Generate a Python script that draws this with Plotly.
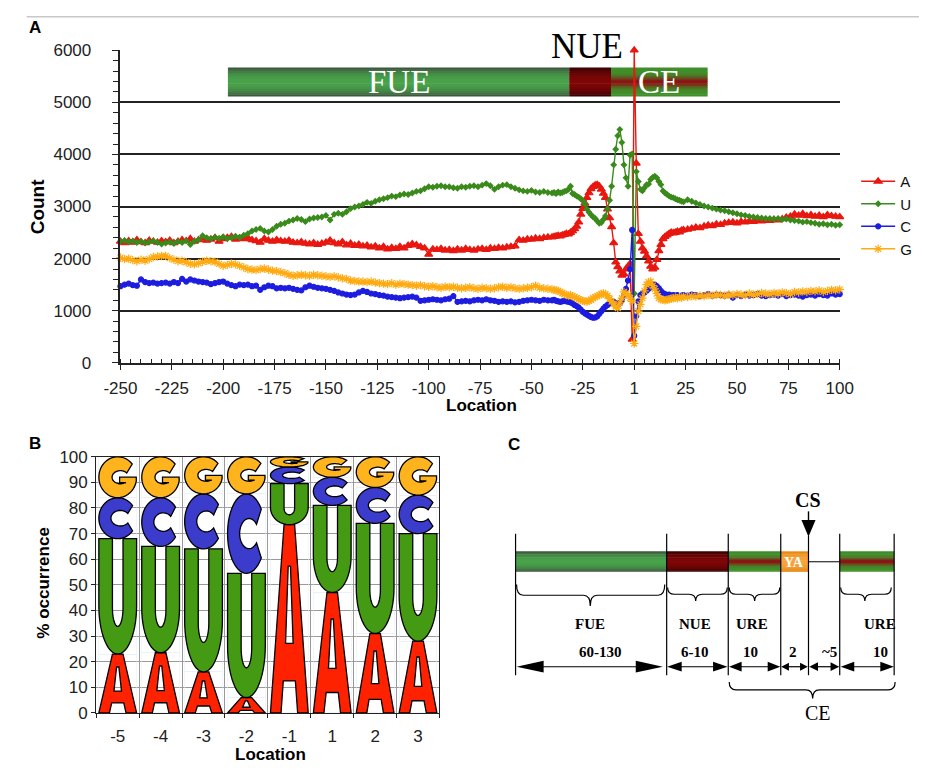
import math
import plotly.graph_objects as go

PAGE_W, PAGE_H = 933, 773
OFF = 0
W, H = PAGE_W - 2 * OFF, PAGE_H - 2 * OFF

# ---------------- Panel A data ----------------
pos_left = list(range(-250, -41, 2))     # -250 .. -42
pos_mid = list(range(-40, 25))           # -40 .. 24
pos_right = list(range(26, 101, 2))      # 26 .. 100
positions = pos_left + pos_mid + pos_right   # axis value 0 is labelled "1"

count_A = [
    2330, 2300, 2340, 2310, 2360, 2320, 2300, 2350, 2330, 2310,
    2340, 2320, 2350, 2300, 2330, 2360, 2340, 2380, 2330, 2360,
    2390, 2350, 2370, 2400, 2330, 2380, 2400, 2420, 2370, 2390,
    2380, 2400, 2360, 2340, 2310, 2380, 2350, 2330, 2360, 2340,
    2330, 2350, 2310, 2300, 2320, 2290, 2280, 2300, 2270, 2290,
    2310, 2350, 2300, 2280, 2320, 2260, 2290, 2250, 2270, 2240,
    2250, 2220, 2240, 2200, 2230, 2180, 2210, 2190, 2230, 2200,
    2250, 2280, 2260, 2230, 2200, 2080, 2180, 2170, 2190, 2160,
    2170, 2150, 2180, 2160, 2190, 2170, 2160, 2180, 2190, 2170,
    2200, 2190, 2210, 2200, 2220, 2230, 2240, 2360, 2350, 2370,
    2370, 2390, 2380, 2400, 2410,
    2410, 2420, 2430, 2440, 2430, 2450, 2460, 2480, 2470, 2500,
    2530, 2570, 2620, 2700, 2850, 2960, 3060, 3170, 3260, 3340,
    3380, 3410, 3420, 3390, 3330, 3250, 3170, 2950, 2780, 2610,
    2300, 1930, 1840, 1760, 1680, 1700, 1800, 1850, 1900, 450,
    6000, 3830, 2480, 2330, 2200, 2140, 2050, 1950, 1850, 1800,
    1830, 1980, 2150, 2270, 2380, 2420, 2450, 2480, 2500, 2490,
    2500, 2520, 2510, 2540, 2550,
    2560, 2580, 2600, 2590, 2620, 2640, 2630, 2660, 2650, 2680,
    2690, 2700, 2680, 2710, 2700, 2720, 2710, 2730, 2720, 2740,
    2730, 2750, 2740, 2760, 2790, 2810, 2850, 2830, 2860, 2820,
    2840, 2810, 2830, 2800, 2840, 2820, 2810, 2800,
]
count_U = [
    2330, 2350, 2320, 2340, 2310, 2330, 2300, 2320, 2340, 2310,
    2280, 2300, 2320, 2290, 2330, 2310, 2340, 2270, 2330, 2360,
    2440, 2400, 2380, 2410, 2390, 2420, 2380, 2400, 2430, 2410,
    2450, 2480, 2530, 2560, 2580, 2530, 2510, 2560, 2620, 2660,
    2680, 2720, 2740, 2770, 2750, 2710, 2760, 2780, 2790, 2800,
    2830, 2740, 2850, 2870, 2850, 2900, 2960, 2990, 3010, 3040,
    3080, 3060, 3100, 3130, 3150, 3170, 3200, 3190, 3220, 3240,
    3230, 3260, 3290, 3300, 3340, 3380, 3370, 3390, 3400, 3380,
    3380, 3360, 3350, 3380, 3370, 3390, 3400, 3380, 3410, 3440,
    3400, 3330, 3380, 3410, 3420, 3380, 3350, 3320, 3300, 3290,
    3310, 3280, 3270, 3290, 3270,
    3260, 3270, 3250, 3280, 3260, 3270, 3290, 3300, 3330, 3390,
    3250, 3230, 3200, 3180, 3150, 3110, 3050, 2950, 2890, 2840,
    2800, 2770, 2720, 2680, 2690, 2750, 2820, 2950, 3120, 3390,
    3800, 4100, 4360, 4480, 4230, 3800, 3550, 3390, 3990, 4010,
    1330, 3670, 3480, 3330, 3300, 3360, 3420, 3430, 3520, 3560,
    3580, 3550, 3480, 3420, 3300, 3260, 3230, 3200, 3180, 3170,
    3150, 3130, 3120, 3100, 3090,
    3130, 3100, 3070, 3040, 3010, 2990, 2970, 2950, 2930, 2920,
    2900, 2880, 2860, 2840, 2830, 2810, 2800, 2790, 2780, 2770,
    2770, 2760, 2770, 2750, 2760, 2740, 2730, 2720, 2700, 2710,
    2690, 2680, 2660, 2670, 2650, 2660, 2640, 2650,
]
count_C = [
    1470, 1500, 1520, 1490, 1480, 1600, 1550, 1530, 1540, 1520,
    1530, 1540, 1520, 1550, 1530, 1610, 1560, 1600, 1580, 1560,
    1550, 1540, 1510, 1530, 1550, 1560, 1520, 1490, 1470, 1500,
    1490, 1500, 1470, 1480, 1400, 1450, 1480, 1470, 1430, 1440,
    1430, 1440, 1420, 1400, 1390, 1450, 1480, 1460, 1440, 1430,
    1420, 1400, 1380, 1350, 1330, 1310, 1300, 1310, 1350, 1380,
    1360, 1330, 1320, 1300, 1290, 1270, 1260, 1250, 1240, 1250,
    1260, 1270, 1250, 1190, 1200, 1210, 1220, 1210, 1200, 1220,
    1230, 1280, 1170, 1180, 1190, 1180, 1200, 1210, 1200, 1220,
    1200, 1190, 1170, 1180, 1170, 1180, 1160, 1170, 1190, 1200,
    1210, 1200, 1190, 1210, 1200,
    1200, 1210, 1190, 1180, 1170, 1180, 1190, 1180, 1170, 1160,
    1140, 1110, 1090, 1060, 1020, 980, 950, 925, 900, 880,
    865, 870, 890, 940, 990, 1040, 1080, 1110, 1140, 1170,
    1170, 1150, 1110, 1150, 1200, 1300, 1420, 1580, 1800, 2550,
    520, 900, 1180, 1300, 1330, 1350, 1380, 1420, 1450, 1480,
    1500, 1470, 1430, 1380, 1340, 1320, 1300, 1310, 1290, 1300,
    1290, 1300, 1280, 1290, 1300,
    1290, 1310, 1300, 1280, 1300, 1320, 1290, 1310, 1300, 1290,
    1310, 1250, 1300, 1280, 1310, 1290, 1300, 1320, 1290, 1280,
    1300, 1310, 1290, 1320, 1280, 1300, 1310, 1290, 1270, 1300,
    1310, 1290, 1320, 1300, 1290, 1330, 1310, 1320,
]
count_G = [
    2020, 1990, 2000, 1970, 1950, 1980, 1960, 1990, 2030, 2040,
    2050, 2050, 2010, 1980, 1950, 1960, 1930, 1900, 1890, 1910,
    1940, 1960, 1950, 1940, 1900, 1860, 1880, 1900, 1890, 1860,
    1830, 1800, 1790, 1780, 1800, 1810, 1790, 1770, 1760, 1740,
    1720, 1690, 1670, 1680, 1690, 1680, 1670, 1690, 1680, 1670,
    1660, 1650, 1660, 1640, 1620, 1610, 1580, 1570, 1560, 1560,
    1550, 1560, 1540, 1530, 1520, 1510, 1530, 1500, 1520, 1510,
    1500, 1490, 1480, 1490, 1470, 1460, 1470, 1450, 1440, 1460,
    1450, 1460, 1440, 1430, 1440, 1450, 1430, 1420, 1440, 1430,
    1420, 1430, 1450, 1460, 1440, 1450, 1430, 1420, 1430, 1440,
    1450, 1480, 1440, 1430, 1420,
    1410, 1400, 1390, 1380, 1360, 1340, 1320, 1300, 1290, 1300,
    1280, 1260, 1240, 1220, 1200, 1190, 1180, 1175, 1190, 1210,
    1240, 1260, 1280, 1300, 1320, 1330, 1320, 1290, 1230, 1180,
    1130, 1080, 1050, 1150, 1240, 1360, 1330, 1300, 1240, 1180,
    370, 700, 990, 1120, 1240, 1380, 1500, 1550, 1560, 1480,
    1420, 1330, 1240, 1220, 1210, 1200, 1210, 1220, 1230, 1240,
    1250, 1240, 1260, 1250, 1270,
    1260, 1280, 1270, 1290, 1280, 1300, 1290, 1310, 1300, 1290,
    1310, 1300, 1320, 1310, 1300, 1330, 1310, 1320, 1340, 1330,
    1320, 1340, 1330, 1350, 1340, 1320, 1360, 1350, 1370, 1360,
    1380, 1370, 1390, 1360, 1380, 1400, 1390, 1410,
]

x_tick_vals = [-250, -225, -200, -175, -150, -125, -100, -75, -50, -25, 0, 25, 50, 75, 100]
x_tick_text = ["-250", "-225", "-200", "-175", "-150", "-125", "-100", "-75", "-50", "-25",
               "1", "25", "50", "75", "100"]

# Element regions drawn above the curves (in axis units)
region_names = ["FUE", "NUE", "CE"]
region_start = [-197.7, -31.6, -11.3]
region_end = [-31.6, -11.3, 35.7]
region_bottom, region_top = 5110, 5670

# ---------------- Panel B data ----------------
logo_positions = ["-5", "-4", "-3", "-2", "-1", "1", "2", "3"]
pct_A = [23, 23.5, 16, 6, 73.5, 47, 31, 28]
pct_U = [45, 41.5, 48, 48.5, 16, 34, 43, 42]
pct_C = [16, 19, 21.5, 31, 6.5, 11, 14, 15]
pct_G = [16, 16, 14.5, 14.5, 4, 8, 12, 15]

# ---------------- Panel C schematic ----------------
c_lengths = ["60-130", "6-10", "10", "2", "~5", "10"]
c_names = ["FUE", "NUE", "URE", "", "", "URE"]

# ---------------- helpers ----------------
def PX(x):
    return (x - OFF) / W


def PY(y):
    return 1 - (y - OFF) / H


def hex2rgb(h):
    h = h.lstrip("#")
    return tuple(int(h[i:i + 2], 16) for i in (0, 2, 4))


def mix(c1, c2, w):
    a, b = hex2rgb(c1), hex2rgb(c2)
    r = [round(a[i] + (b[i] - a[i]) * w) for i in range(3)]
    return "rgb(%d,%d,%d)" % tuple(r)


def green_fn(t):
    return mix("#3a403a", "#48a24a", math.sin(math.pi * t) ** 0.6)


def nue_fn(t):
    return mix("#220000", "#7e0606", math.sin(math.pi * t) ** 0.6)


def ce_fn(t):
    return mix("#3f8f2a", "#8c1212", math.exp(-((t - 0.5) / 0.17) ** 2))


def ya_fn(t):
    return mix("#e07800", "#f6a43c", math.sin(math.pi * t) ** 0.5)


shapes = []
annotations = []


def gradient(x0, x1, y0, y1, fn, n, xref, yref, layer):
    for i in range(n):
        t = (i + 0.5) / n
        ya = y0 + (y1 - y0) * i / n
        yb = y0 + (y1 - y0) * min(n, i + 1.35) / n
        shapes.append(dict(type="rect", xref=xref, yref=yref, x0=x0, x1=x1, y0=ya, y1=yb,
                           fillcolor=fn(t), line=dict(width=0), layer=layer))


def gradient_px(x0, x1, y0, y1, fn, n=14):
    gradient(PX(x0), PX(x1), PY(y0), PY(y1), fn, n, "paper", "paper", "above")


def line_px(x0, y0, x1, y1, w=1.2, color="black"):
    shapes.append(dict(type="line", xref="paper", yref="paper", x0=PX(x0), y0=PY(y0),
                       x1=PX(x1), y1=PY(y1), line=dict(color=color, width=w), layer="above"))


def poly_px(pts, color="black"):
    d = "M " + " L ".join("%.5f,%.5f" % (PX(x), PY(y)) for x, y in pts) + " Z"
    shapes.append(dict(type="path", xref="paper", yref="paper", path=d, fillcolor=color,
                       line=dict(width=0), layer="above"))


def brace_px(x0, x1, xm, y_end, y_mid, y_tip, w=1.2):
    r = 7
    pts = [(x0, y_end), (x0, y_mid), (x0 + r, y_mid), (xm - r, y_mid), (xm, y_mid), (xm, y_tip),
           (xm, y_mid), (xm + r, y_mid), (x1 - r, y_mid), (x1, y_mid), (x1, y_end)]
    p = ["%.5f,%.5f" % (PX(x), PY(y)) for x, y in pts]
    d = ("M %s Q %s %s L %s Q %s %s Q %s %s L %s Q %s %s" %
         (p[0], p[1], p[2], p[3], p[4], p[5], p[6], p[7], p[8], p[9], p[10]))
    shapes.append(dict(type="path", xref="paper", yref="paper", path=d,
                       line=dict(color="black", width=w), layer="above"))


def darrow_px(xa, xb, y, hl, hh):
    line_px(xa + hl * 0.5, y, xb - hl * 0.5, y, 1.2)
    poly_px([(xa, y), (xa + hl, y - hh), (xa + hl, y + hh)])
    poly_px([(xb, y), (xb - hl, y - hh), (xb - hl, y + hh)])


def text_px(txt, x, y, size, color="black", family="Liberation Serif, Times New Roman, serif",
            angle=0):
    annotations.append(dict(text=txt, x=PX(x), y=PY(y), xref="paper", yref="paper",
                            showarrow=False, xanchor="center", yanchor="middle",
                            textangle=angle, font=dict(size=size, color=color, family=family)))


# letter glyphs in a unit box
def ell(cx, cy, rx, ry, a0, a1, n=28):
    return [(cx + rx * math.cos(math.radians(a0 + (a1 - a0) * k / (n - 1))),
             cy + ry * math.sin(math.radians(a0 + (a1 - a0) * k / (n - 1)))) for k in range(n)]


GLYPHS = {
    "A": [[(0, 0), (0.36, 1), (0.64, 1), (1, 0), (0.72, 0), (0.66, 0.17), (0.34, 0.17), (0.28, 0)],
          [(0.40, 0.37), (0.47, 0.78), (0.53, 0.78), (0.60, 0.37)]],
    "U": [[(0, 1)] + ell(0.5, 0.42, 0.5, 0.42, 180, 360) + [(1, 1), (0.64, 1)]
          + ell(0.5, 0.40, 0.14, 0.16, 0, -180) + [(0.36, 1)]],
    "C": [ell(0.5, 0.5, 0.5, 0.5, 38, 322, 40) + ell(0.57, 0.5, 0.25, 0.19, 322, 38, 30)],
    "G": [ell(0.5, 0.5, 0.5, 0.5, 40, 350, 40)
          + [(0.99, 0.50), (0.55, 0.50), (0.55, 0.37), (0.72, 0.37)]
          + ell(0.57, 0.5, 0.22, 0.16, 300, 40, 30)],
}


def glyph_path(letter, x0, x1, y0, y1):
    parts = []
    for poly in GLYPHS[letter]:
        pts = ["%.4f,%.4f" % (x0 + u * (x1 - x0), y0 + v * (y1 - y0)) for u, v in poly]
        parts.append("M " + " L ".join(pts) + " Z")
    return " ".join(parts)


# ---------------- figure ----------------
RED, GREEN, BLUE, ORANGE = "#e8170f", "#3a8a1c", "#1d1de0", "#ffaa10"

fig = go.Figure()
series = [("A", count_A, RED, "triangle-up", 7),
          ("U", count_U, GREEN, "diamond", 4),
          ("C", count_C, BLUE, "circle", 5),
          ("G", count_G, ORANGE, "asterisk-open", 7)]
for name, vals, col, sym, sz in series:
    fig.add_trace(go.Scatter(x=positions, y=vals, name=name, mode="lines+markers",
                             line=dict(color=col, width=1.4),
                             marker=dict(symbol=sym, size=sz, color=col,
                                         line=dict(color=col, width=1.2)),
                             cliponaxis=False, xaxis="x", yaxis="y"))

# panel B: stacked (invisible) bars carrying the data, glyphs drawn on top
logo_x = list(range(len(logo_positions)))
for name, vals in [("A", pct_A), ("U", pct_U), ("C", pct_C), ("G", pct_G)]:
    fig.add_trace(go.Bar(x=logo_x, y=vals, xaxis="x2", yaxis="y2", showlegend=False,
                         marker=dict(color="rgba(0,0,0,0)"), hoverinfo="skip", width=0.88))

LOGO_COL = {"A": "#ff2200", "U": "#449a12", "C": "#3b3bcc", "G": "#ffb41e"}
for i in logo_x:
    base = 0
    for letter, vals in [("A", pct_A), ("U", pct_U), ("C", pct_C), ("G", pct_G)]:
        top = base + vals[i]
        shapes.append(dict(type="path", xref="x2", yref="y2",
                           path=glyph_path(letter, i - 0.44, i + 0.44, base, top),
                           fillcolor=LOGO_COL[letter], fillrule="evenodd",
                           line=dict(color="black", width=1.3), layer="above"))
        base = top

# panel A: region bars
fns = {"FUE": green_fn, "NUE": nue_fn, "CE": ce_fn}
for nm, a, b in zip(region_names, region_start, region_end):
    gradient(a, b, region_bottom, region_top, fns[nm], 16, "x", "y", "between")
annotations.append(dict(text="FUE", x=(region_start[0] + region_end[0]) / 2,
                        y=(region_bottom + region_top) / 2, xref="x", yref="y", showarrow=False,
                        xanchor="center", yanchor="middle",
                        font=dict(size=33, color="white", family="Liberation Serif, serif")))
annotations.append(dict(text="CE", x=(region_start[2] + region_end[2]) / 2,
                        y=(region_bottom + region_top) / 2, xref="x", yref="y", showarrow=False,
                        xanchor="center", yanchor="middle",
                        font=dict(size=33, color="white", family="Liberation Serif, serif")))
annotations.append(dict(text="NUE", x=(region_start[1] + region_end[1]) / 2 - 1.5, y=PY(38),
                        xref="x", yref="paper", showarrow=False,
                        xanchor="center", yanchor="middle",
                        font=dict(size=35, color="black", family="Liberation Serif, serif")))

# separator line at top
line_px(10, 8, 933, 8, 1.5, "#c8c8c8")

# panel C schematic
cb = [515.7, 672, 735.7, 790, 818.7, 851, 907.3]
bar_t, bar_b = 556, 577
gradient_px(cb[0], cb[1], bar_t, bar_b, green_fn)
gradient_px(cb[1], cb[2], bar_t, bar_b, nue_fn)
gradient_px(cb[2], cb[3], bar_t, bar_b, ce_fn)
gradient_px(cb[3], cb[4], bar_t, bar_b, ya_fn)
gradient_px(cb[5], cb[6], bar_t, bar_b, ce_fn)
line_px(cb[4], 566.7, cb[5], 566.7, 1.0)
for i, x in enumerate(cb):
    line_px(x, 540 if i == 4 else 538, x, 683, 1.2)
# CS arrow
line_px(cb[4], 515, cb[4], 528, 1.4)
poly_px([(cb[4] - 7.3, 524), (cb[4] + 7.3, 524), (cb[4], 541)])
text_px("<b>CS</b>", 818, 503, 20)
text_px("<b>YA</b>", 804, 567, 14, "white")
# braces under the bar
brace_px(cb[0] + 1, cb[1] - 2, 593, 590, 601, 612)
brace_px(cb[1] + 1, cb[2] - 1, 702, 593, 600, 607)
brace_px(cb[2] + 1, cb[3] - 1, 763, 593, 600, 607)
brace_px(cb[5] + 1, cb[6] - 3, 877, 593, 600, 607)
brace_px(cb[2] + 1, cb[6] + 1, 823, 690, 698, 707)
# names and lengths
name_x = [593, 701, 760, None, None, 893]
len_x = [604, 701, 759, 803, 840, 893]
for nm, xx in zip(c_names, name_x):
    if nm:
        text_px("<b>%s</b>" % nm, xx, 630, 15)
for ln, xx in zip(c_lengths, len_x):
    text_px("<b>%s</b>" % ln, xx, 659, 15)
text_px("CE", 829, 722, 20)
# double arrows
arrow_specs = [(516.7, 668, 28, 6), (672.5, 735, 15, 5), (736.5, 789.5, 13, 5),
               (790.5, 818, 8, 4), (819.5, 850.5, 9, 4.5), (852, 907, 14, 5)]
for xa, xb, hl, hh in arrow_specs:
    darrow_px(xa, xb, 674.3, hl, hh)

# panel letters and axis titles
SANS = "Liberation Sans, Arial, sans-serif"
text_px("<b>A</b>", 19, 19, 17, family=SANS)
text_px("<b>B</b>", 19, 445, 17, family=SANS)
text_px("<b>C</b>", 514, 446, 17, family=SANS)
text_px("<b>Count</b>", 21, 202, 19, family=SANS, angle=-90)
text_px("<b>Location</b>", 480, 407, 17, family=SANS)
text_px("<b>% occurrence</b>", 27, 588, 17, family=SANS, angle=-90)
text_px("<b>Location</b>", 262, 764, 17, family=SANS)

fig.update_layout(
    width=W, height=H, autosize=False,
    margin=dict(l=0, r=0, t=0, b=0),
    paper_bgcolor="white", plot_bgcolor="white",
    font=dict(family=SANS, size=17, color="#222"),
    barmode="stack",
    showlegend=True,
    legend=dict(x=PX(868), y=PY(160), xanchor="left", yanchor="top",
                bgcolor="rgba(0,0,0,0)", font=dict(size=15, color="#111"),
                traceorder="normal", tracegroupgap=0, itemwidth=34),
    xaxis=dict(domain=[PX(107), PX(851)], range=[-250, 100], anchor="y",
               tickmode="array", tickvals=x_tick_vals, ticktext=x_tick_text,
               ticks="outside", ticklen=5, tickwidth=1.3, tickcolor="#222",
               showline=True, linecolor="#222", linewidth=1.5, showgrid=False, zeroline=False,
               ticklabelstandoff=4,
               minor=dict(tickmode="linear", tick0=0, dtick=5, ticks="inside", ticklen=4,
                          tickwidth=1.2, tickcolor="#222", showgrid=False)),
    yaxis=dict(domain=[PY(362.7), PY(42.3)], range=[0, 6000], anchor="x",
               tickmode="linear", tick0=0, dtick=1000,
               ticks="outside", ticklen=7, tickwidth=1.3, tickcolor="#222",
               showline=True, linecolor="#222", linewidth=1.5,
               showgrid=True, gridcolor="#222", gridwidth=1.5, zeroline=False,
               ticklabelstandoff=17,
               minor=dict(tickmode="linear", tick0=0, dtick=200, ticks="outside", ticklen=6,
                          tickwidth=1.2, tickcolor="#222", showgrid=False)),
    xaxis2=dict(domain=[PX(82), PX(437)], range=[-0.5, 7.5], anchor="y2",
                tickmode="array", tickvals=logo_x, ticktext=logo_positions,
                ticks="", showgrid=False, zeroline=False,
                showline=True, mirror=True, linecolor="#222", linewidth=1.2,
                ticklabelstandoff=8,
                minor=dict(tickmode="array", tickvals=[k - 0.5 for k in range(9)],
                           ticks="outside", ticklen=4, tickcolor="#222",
                           showgrid=True, gridcolor="#9a9a9a", gridwidth=1)),
    yaxis2=dict(domain=[PY(721.7), PY(459)], range=[0, 100], anchor="x2",
                tickmode="linear", tick0=0, dtick=10,
                ticks="outside", ticklen=4, tickcolor="#222",
                showline=True, mirror=True, linecolor="#222", linewidth=1.2,
                showgrid=True, gridcolor="#9a9a9a", gridwidth=1, zeroline=False),
    shapes=shapes,
    annotations=annotations,
)

fig.write_html("out.html")
